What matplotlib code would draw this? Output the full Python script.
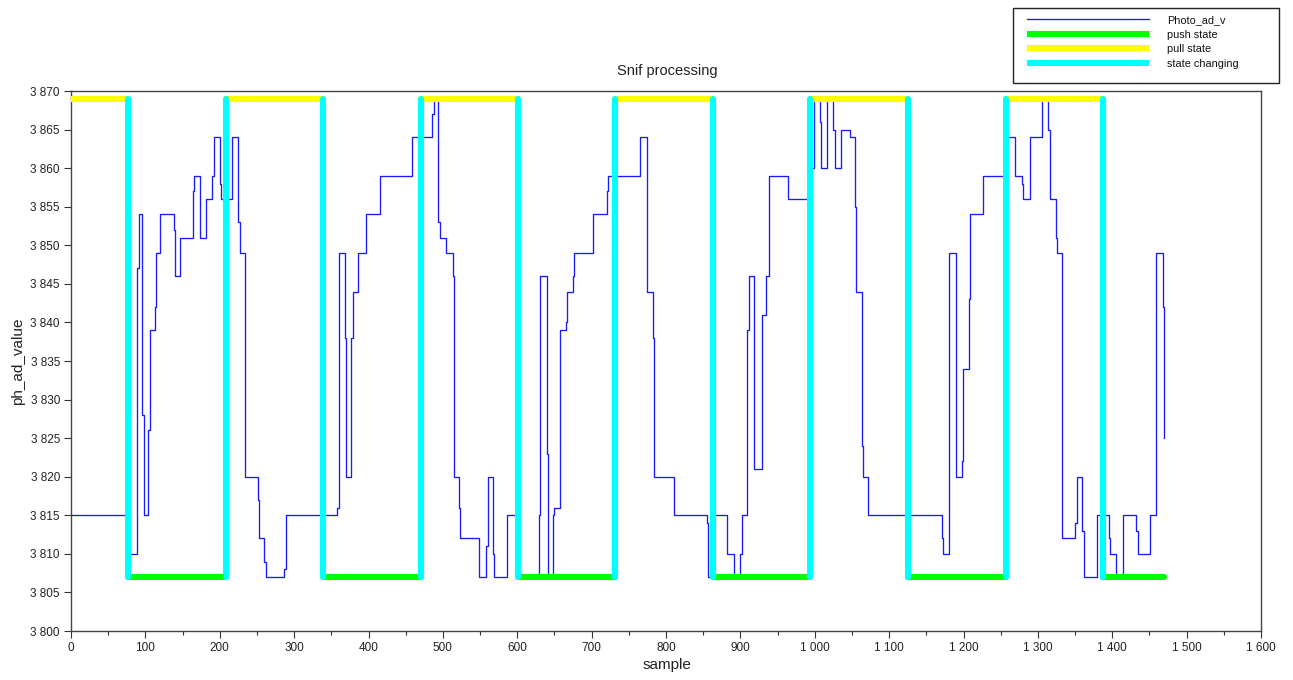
import matplotlib
matplotlib.use("Agg")
import matplotlib.pyplot as plt
from matplotlib.ticker import FuncFormatter, MultipleLocator
from matplotlib.patches import Rectangle
from matplotlib.lines import Line2D
import numpy as np

plt.rcParams['font.family'] = ['Liberation Sans', 'DejaVu Sans']

# Photo ADC signal: sample index where each new value starts, and that value
photo_start = [0, 77, 89, 91, 96, 98, 104, 106, 113, 114, 120, 138, 140, 146, 147,
               164, 165, 174, 182, 190, 192, 200, 202, 216, 217, 225, 227, 234, 252,
               253, 260, 262, 287, 289, 358, 361, 368, 370, 377, 379, 386, 397, 415,
               416, 459, 486, 488, 494, 496, 504, 513, 515, 522, 523, 549, 558, 560,
               567, 569, 586, 599, 629, 631, 640, 641, 648, 649, 657, 666, 667, 675,
               676, 702, 720, 722, 765, 775, 782, 784, 811, 855, 857, 864, 882, 891,
               899, 902, 909, 911, 918, 929, 935, 938, 964, 995, 999, 1007, 1009, 1017,
               1025, 1027, 1035, 1047, 1054, 1055, 1063, 1065, 1072, 1171, 1172, 1180,
               1181, 1190, 1198, 1199, 1207, 1209, 1226, 1257, 1269, 1278, 1280, 1289,
               1290, 1306, 1314, 1316, 1324, 1326, 1333, 1350, 1352, 1359, 1362, 1379,
               1395, 1397, 1405, 1414, 1432, 1434, 1451, 1459, 1468, 1469]
photo_value = [3815, 3810, 3847, 3854, 3828, 3815, 3826, 3839, 3842, 3849, 3854, 3852,
               3846, 3849, 3851, 3857, 3859, 3851, 3856, 3859, 3864, 3858, 3856, 3859,
               3864, 3853, 3849, 3820, 3817, 3812, 3809, 3807, 3808, 3815, 3816, 3849,
               3838, 3820, 3838, 3844, 3849, 3854, 3857, 3859, 3864, 3867, 3869, 3853,
               3851, 3849, 3846, 3820, 3816, 3812, 3807, 3811, 3820, 3810, 3807, 3815,
               3807, 3815, 3846, 3823, 3807, 3815, 3816, 3839, 3840, 3844, 3846, 3849,
               3854, 3857, 3859, 3864, 3844, 3838, 3820, 3815, 3814, 3807, 3815, 3810,
               3807, 3810, 3815, 3839, 3846, 3821, 3841, 3846, 3859, 3856, 3860, 3869,
               3866, 3860, 3869, 3865, 3860, 3865, 3864, 3855, 3844, 3824, 3820, 3815,
               3812, 3810, 3846, 3849, 3820, 3822, 3834, 3843, 3854, 3859, 3864, 3859,
               3858, 3856, 3862, 3864, 3869, 3865, 3856, 3851, 3849, 3812, 3814, 3820,
               3813, 3807, 3815, 3812, 3810, 3807, 3815, 3813, 3810, 3815, 3849, 3842,
               3825]

# Breathing state machine
state_changes = [77, 208, 339, 470, 601, 732, 863, 994, 1125, 1257, 1388]
first_state = "pull"
last_sample = 1469
push_level = 3807
pull_level = 3869

x_ticks = list(range(0, 1601, 100))
y_ticks = list(range(3800, 3871, 5))

series_labels = ["Photo_ad_v", "push state", "pull state", "state changing"]
series_colors = ["#1a1aff", "#00ff00", "#ffff00", "#00ffff"]

# Build the push / pull segments between state changes
bounds = [0] + state_changes + [last_sample]
push_x, push_y, pull_x, pull_y = [], [], [], []
state = first_state
for a, b in zip(bounds[:-1], bounds[1:]):
    if state == "pull":
        pull_x += [a, b, np.nan]
        pull_y += [pull_level, pull_level, np.nan]
        state = "push"
    else:
        push_x += [a, b, np.nan]
        push_y += [push_level, push_level, np.nan]
        state = "pull"

W, H = 1293, 680
fig = plt.figure(figsize=(W / 100, H / 100), dpi=100)
ax = fig.add_axes([71 / W, 1 - 631 / H, (1261 - 71) / W, (631 - 91) / H])

thick = 4.4
ax.plot(photo_start, photo_value, drawstyle="steps-post", color=series_colors[0],
        lw=0.95, zorder=2)
ax.plot(push_x, push_y, color=series_colors[1], lw=thick, solid_capstyle="round",
        zorder=3)
ax.plot(pull_x, pull_y, color=series_colors[2], lw=thick, solid_capstyle="round",
        zorder=3)
ax.vlines(state_changes, push_level, pull_level, color=series_colors[3], lw=thick,
          capstyle="round", zorder=4)

ax.set_xlim(0, 1600)
ax.set_ylim(3800, 3870)
ax.set_xticks(x_ticks)
ax.set_yticks(y_ticks)
ax.xaxis.set_minor_locator(MultipleLocator(50))
fmt = FuncFormatter(lambda v, p: f"{int(round(v)):,}".replace(",", " "))
ax.xaxis.set_major_formatter(fmt)
ax.yaxis.set_major_formatter(fmt)
ax.tick_params(axis="both", which="major", direction="out", length=5, width=0.8,
               labelsize=8.5, colors="#333333", labelcolor="#222222", pad=3)
ax.tick_params(axis="x", which="minor", direction="out", length=3, width=0.8,
               colors="#333333")
for sp in ax.spines.values():
    sp.set_color("#444444")
    sp.set_linewidth(1.0)

fig.text(667 / W, 1 - 71 / H, "Snif processing", ha="center", va="center",
         fontsize=10.5, color="#222222")
fig.text(667 / W, 1 - 665 / H, "sample", ha="center", va="center",
         fontsize=11, color="#222222")
fig.text(18 / W, 1 - 361 / H, "ph_ad_value", ha="center", va="center",
         rotation=90, fontsize=11, color="#222222")

# Legend box above the plot area, top right
fig.patches.append(Rectangle((1013 / W, 1 - 83 / H), (1279 - 1013) / W, (83 - 8) / H,
                             transform=fig.transFigure, facecolor="white",
                             edgecolor="#222222", lw=1.0, zorder=1))
handles = [Line2D([], [], color=series_colors[0], lw=0.95)] + [
    Line2D([], [], color=c, lw=thick, solid_capstyle="butt") for c in series_colors[1:]]
leg = fig.legend(handles, series_labels, loc="upper left",
                 bbox_to_anchor=(1027 / W, 1 - 15 / H), bbox_transform=fig.transFigure,
                 frameon=False, fontsize=7.8, handlelength=11.3, handletextpad=1.6,
                 labelspacing=0.42, borderpad=0, borderaxespad=0)
for t in leg.get_texts():
    t.set_color("#111111")
leg.set_zorder(5)

fig.savefig("out.png", dpi=100)
